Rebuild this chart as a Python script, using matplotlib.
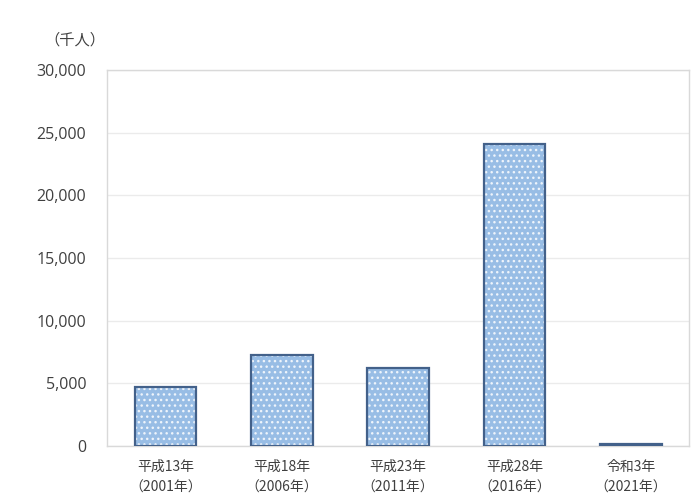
import numpy as np
import matplotlib.pyplot as plt

plt.rcParams['font.family'] = ['Noto Sans CJK JP', 'DejaVu Sans']

# 調査年と人数(千人)
years = ['平成13年\n（2001年）', '平成18年\n（2006年）', '平成23年\n（2011年）',
         '平成28年\n（2016年）', '令和3年\n（2021年）']
people = [4700, 7300, 6200, 24100, 200]
yticks = np.arange(0, 30001, 5000)

fig = plt.figure(figsize=(6.96, 5.04), dpi=100)
ax = fig.add_axes([0.154, 0.115, 0.836, 0.746])

x = np.arange(len(years))
w = 0.53
# 模様つきの塗り -> 枠線は別に重ねる
ax.bar(x, people, width=w, color='#98bde5', edgecolor='#eef4fb', hatch='...', linewidth=0, zorder=2)
ax.bar(x, people, width=w, fill=False, edgecolor='#43618a', linewidth=1.6, zorder=3)

ax.set_xlim(-0.5, len(years) - 0.5)
ax.set_ylim(0, 30000)
ax.set_yticks(yticks)
ax.set_yticklabels([f'{v:,}' for v in yticks], fontsize=11.5, color='#404040',
                   family=['Open Sans', 'DejaVu Sans'])
ax.set_xticks(x)
ax.set_xticklabels(years, fontsize=10, color='#404040', linespacing=1.65)
ax.tick_params(length=0, pad=10)
ax.tick_params(axis='y', pad=15)

ax.grid(axis='y', color='#ebebeb', linewidth=1, zorder=0)
for s in ax.spines.values():
    s.set_color('#d9d9d9')
    s.set_linewidth(1)

fig.text(0.108, 0.92, '（千人）', fontsize=11, color='#404040', ha='center', va='center')

fig.savefig('out.png', dpi=100)
